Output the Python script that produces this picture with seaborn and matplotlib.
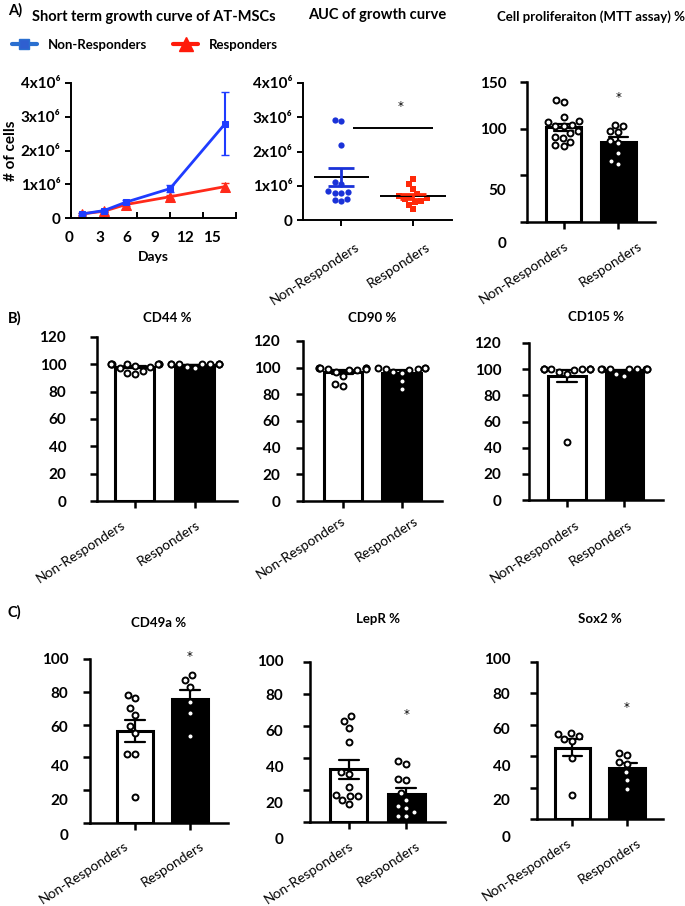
import numpy as np
import pandas as pd
import matplotlib
matplotlib.use('Agg')
import matplotlib.pyplot as plt
import matplotlib.transforms as mtransforms
from matplotlib.lines import Line2D
import seaborn as sns

groups = ['Non-Responders', 'Responders']

# A) short term growth curve, mean and SEM
days = [1, 3, 5, 9, 14]
growth_nr = [0.12e6, 0.22e6, 0.47e6, 0.87e6, 2.79e6]
growth_nr_sem = [0.03e6, 0.03e6, 0.05e6, 0.10e6, 0.93e6]
growth_r = [0.12e6, 0.20e6, 0.40e6, 0.63e6, 0.93e6]
growth_r_sem = [0.02e6, 0.02e6, 0.04e6, 0.06e6, 0.10e6]

# A) AUC of growth curve
auc_nr = [2.92e6, 2.9e6, 2.2e6, 1.1e6, 1.05e6, 0.85e6, 0.82e6, 0.8e6, 0.78e6, 0.6e6, 0.58e6, 0.55e6]
auc_r = [1.2e6, 1.05e6, 0.9e6, 0.75e6, 0.7e6, 0.68e6, 0.65e6, 0.6e6, 0.55e6, 0.52e6, 0.45e6, 0.32e6]

# A) MTT assay
mtt_nr = [131, 129, 112, 108, 107, 104, 103, 103, 97, 95, 91, 90, 86, 82, 81]
mtt_r = [104, 103, 97, 96, 87, 85, 74, 65, 62]

# B) surface markers
cd44_nr = [100, 100, 100, 100, 100, 100, 100, 99, 98, 97, 95, 94, 93]
cd44_r = [100, 100, 100, 100, 100, 100, 100, 100, 98, 97]
cd90_nr = [100, 100, 100, 100, 100, 99, 99, 98, 98, 97, 94, 88, 86]
cd90_r = [100, 100, 100, 99, 99, 98, 97, 96, 90, 84]
cd105_nr = [100, 100, 100, 100, 100, 100, 100, 100, 99, 98, 96, 44]
cd105_r = [100, 100, 100, 100, 100, 100, 100, 100, 96, 95]

# C) stemness markers
cd49a_nr = [78, 76, 70, 66, 59, 55, 42, 42, 16]
cd49a_r = [90, 87, 83, 74, 67, 53]
lepr_nr = [66, 63, 59, 50, 31, 30, 22, 17, 16, 16, 14, 11]
lepr_r = [38, 36, 27, 26, 18, 14, 10, 9, 6, 4, 4]
sox2_nr = [55, 54, 53, 51, 50, 39, 15]
sox2_r = [42, 41, 36, 35, 30, 25, 19]

W, H = 685, 906
sns.set_style('ticks')
plt.rcParams['font.family'] = ['Lato', 'DejaVu Sans']
plt.rcParams.update({'axes.linewidth': 1.8, 'text.color': 'black',
                     'axes.labelcolor': 'black', 'axes.edgecolor': 'black',
                     'xtick.color': 'black', 'ytick.color': 'black'})

fig = plt.figure(figsize=(W / 100, H / 100), dpi=100)


def add_ax(l, r, t, b):
    return fig.add_axes([l / W, 1 - b / H, (r - l) / W, (b - t) / H])


def shift_labels(labels, dx=None, dy=None):
    # the original figure has tick labels pasted slightly off their ticks
    for i, lbl in enumerate(labels):
        ox = dx[i] if isinstance(dx, list) else (dx or 0)
        oy = dy[i] if isinstance(dy, list) else (dy or 0)
        off = mtransforms.ScaledTranslation(ox / 100, -oy / 100, fig.dpi_scale_trans)
        lbl.set_transform(lbl.get_transform() + off)


def star(ax, x, y):
    ax.text(x, y, '*', ha='center', va='center', fontsize=8.5, color='black',
            family='DejaVu Sans', clip_on=False)


def cat_labels(ax, xshift, yshift):
    ax.set_xticks([0, 1], groups, rotation=33, ha='right', rotation_mode='anchor',
                  fontsize=10)
    shift_labels(ax.get_xticklabels(), dx=xshift, dy=yshift)


def bar_panel(ax, nr, r, title, ylim, yticks, xlim, pad, ydx, xshift, xdy,
              star_y=None, yshift=None):
    df = pd.DataFrame({'group': [groups[0]] * len(nr) + [groups[1]] * len(r),
                       'value': nr + r})
    sns.barplot(data=df, x='group', y='value', order=groups, hue='group',
                palette=['white', 'black'], errorbar='se', capsize=0.36,
                err_kws={'color': 'black', 'linewidth': 1.6},
                edgecolor='black', linewidth=2.2, width=0.65, legend=False, ax=ax)
    sns.swarmplot(data=df, x='group', y='value', order=groups, color='white',
                  edgecolor='black', linewidth=1.4, size=4.3, ax=ax, zorder=5)
    ax.set_ylim(*ylim)
    ax.set_xlim(*xlim)
    ax.set_yticks(yticks, [str(v) for v in yticks])
    ax.set_xlabel('')
    ax.set_ylabel('')
    ax.set_title(title, fontsize=9.5, fontweight='bold', pad=pad)
    sns.despine(ax=ax)
    ax.tick_params(axis='both', width=1.8, length=5, labelsize=11)
    for lbl in ax.get_yticklabels():
        lbl.set_fontweight('bold')
    cat_labels(ax, xshift, xdy)
    if star_y is not None:
        star(ax, 1, star_y)
    shift_labels(ax.get_yticklabels(), dx=ydx, dy=yshift)


# ---- A) growth curve ----
ax = add_ax(71, 236, 83, 218)
sns.lineplot(x=days, y=growth_r, color='#ff2a1a', marker='^', markersize=7,
             markeredgecolor='#ff2a1a', linewidth=2, ax=ax)
ax.errorbar(days, growth_r, yerr=growth_r_sem, fmt='none', ecolor='#ff2a1a',
            elinewidth=1.5, capsize=3)
sns.lineplot(x=days, y=growth_nr, color='#1f3cff', marker='s', markersize=5,
             markeredgecolor='#1f3cff', linewidth=2, ax=ax)
ax.errorbar(days, growth_nr, yerr=growth_nr_sem, fmt='none', ecolor='#1f3cff',
            elinewidth=1.5, capsize=3)
ax.set_xlim(0, 15)
ax.set_ylim(0, 4e6)
growth_ticks = [0, 1e6, 2e6, 3e6, 4e6]
growth_labels = ['0', '1x10⁶', '2x10⁶', '3x10⁶', '4x10⁶']
ax.set_yticks(growth_ticks, growth_labels)
ax.set_xticks([0, 3, 6, 9, 12, 15], ['0', '3', '6', '9', '12', '15'])
sns.despine(ax=ax)
for s in ax.spines.values():
    s.set_linewidth(1.4)
ax.tick_params(axis='y', width=1.4, length=4, labelsize=11)
ax.tick_params(axis='x', direction='in', width=1.4, length=4, labelsize=11, pad=9)
for lbl in ax.get_yticklabels() + ax.get_xticklabels():
    lbl.set_fontweight('bold')
shift_labels(ax.get_xticklabels(), dx=[-2, -4, -10, -15, -18, -24])
ax.set_xlabel('Days', fontsize=10, fontweight='bold', labelpad=5)
ax.set_ylabel('# of cells', fontsize=11, fontweight='bold', labelpad=2)
ax.set_title('Short term growth curve of AT-MSCs', fontsize=10.5, fontweight='bold',
             pad=45)
handles = [Line2D([], [], color='#2a6fd0', lw=3, marker='s', markersize=7,
                  markerfacecolor='#2f5fd0', markeredgecolor='#2a6fd0'),
           Line2D([], [], color='#ff1a0a', lw=3, marker='^', markersize=10)]
fig.legend(handles, groups, loc='center left', bbox_to_anchor=(0.0, 1 - 45 / H),
           ncol=2, frameon=False, handlelength=1.9, columnspacing=2.0,
           prop={'weight': 'bold', 'size': 9.5})

# ---- A) AUC ----
ax = add_ax(303, 452, 83, 220)
auc_df = pd.DataFrame({'group': [groups[0]] * len(auc_nr) + [groups[1]] * len(auc_r),
                       'auc': auc_nr + auc_r})
sns.swarmplot(data=auc_df[auc_df.group == groups[0]], x='group', y='auc', order=groups,
              color='#1a32d8', marker='o', size=4.5, linewidth=0, ax=ax)
sns.swarmplot(data=auc_df[auc_df.group == groups[1]], x='group', y='auc', order=groups,
              color='#ff2a0a', marker='s', size=4.5, linewidth=0, ax=ax)
for i, (vals, col, half) in enumerate([(auc_nr, '#1a32d8', 0.38), (auc_r, '#ff2a0a', 0.46)]):
    m = np.mean(vals)
    se = np.std(vals, ddof=1) / np.sqrt(len(vals))
    ax.hlines(m, i - half, i + half, color='black', lw=1.4, zorder=6)
    ax.errorbar(i, m, yerr=se, fmt='none', ecolor=col, elinewidth=2, capsize=9.5,
                capthick=2, zorder=6)
ax.hlines(2.7e6, 0.17, 1.28, color='black', lw=1.4)
star(ax, 0.83, 3.3e6)
ax.set_xlim(-0.53, 1.54)
ax.set_ylim(0, 4e6)
ax.set_yticks(growth_ticks, growth_labels)
ax.set_xlabel('')
ax.set_ylabel('')
ax.set_title('AUC of growth curve', fontsize=10.5, fontweight='bold', pad=46)
sns.despine(ax=ax)
for s in ax.spines.values():
    s.set_linewidth(1.4)
ax.tick_params(axis='both', width=1.4, length=4, labelsize=11)
for lbl in ax.get_yticklabels():
    lbl.set_fontweight('bold')
cat_labels(ax, [14, 12], 10)

# ---- A) MTT ----
ax = add_ax(527, 655, 82, 222)
bar_panel(ax, mtt_nr, mtt_r, 'Cell proliferaiton (MTT assay) %', (0, 150),
          [0, 50, 100, 150], (-0.67, 1.67), 44, -9, [0, 19], 6,
          star_y=133, yshift=[21, 14, 0, 0])

# ---- B) ----
pct = [0, 20, 40, 60, 80, 100, 120]
ax = add_ax(97, 237, 337, 501)
bar_panel(ax, cd44_nr, cd44_r, 'CD44 %', (0, 120), pct, (-0.63, 1.7), 11,
          -19, [-14, 1], 6)
ax = add_ax(303, 442, 341, 501)
bar_panel(ax, cd90_nr, cd90_r, 'CD90 %', (0, 120), pct, (-0.68, 1.69), 14,
          -11, [-2, 12], 2)
ax = add_ax(529, 663, 343, 500)
bar_panel(ax, cd105_nr, cd105_r, 'CD105 %', (0, 120), pct, (-0.66, 1.67), 16,
          -16, [8, 3], 7)

# ---- C) ----
pct = [0, 20, 40, 60, 80, 100]
ax = add_ax(90, 228, 659, 823)
bar_panel(ax, cd49a_nr, cd49a_r, 'CD49a %', (0, 100), pct, (-0.82, 1.69), 23,
          -10, [-11, 10], 5, star_y=101.5, yshift=[11, 9, 8, 2, 1, 0])
ax = add_ax(310, 445, 662, 822)
bar_panel(ax, lepr_nr, lepr_r, 'LepR %', (0, 100), pct, (-0.68, 1.68), 28,
          -15, [0, 9], 6, star_y=67, yshift=[17, 12, 9, 4, 0, -2])
ax = add_ax(537, 663, 662, 819)
bar_panel(ax, sox2_nr, sox2_r, 'Sox2 %', (0, 100), pct, (-0.65, 1.66), 28,
          -15, [-6, 10], 6, star_y=71, yshift=[17, 12, 9, 4, 0, -4])

for txt, y in [('A)', 10), ('B)', 318), ('C)', 612)]:
    fig.text(8 / W, 1 - y / H, txt, fontsize=10.5, fontweight='bold', va='center')

fig.savefig('out.png', dpi=100)
